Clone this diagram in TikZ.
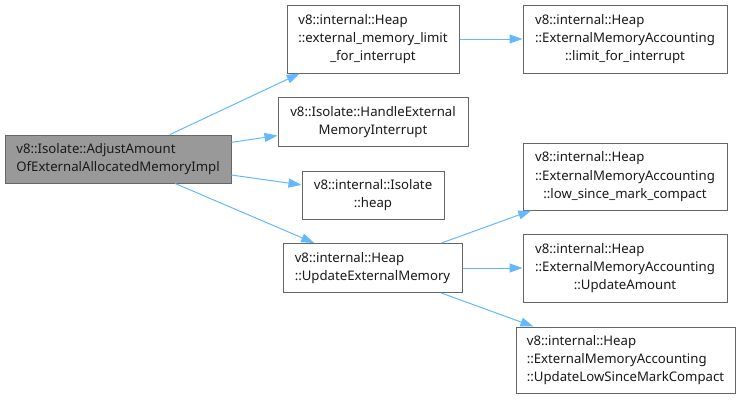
\documentclass[tikz,border=0pt]{standalone}
\usepackage{fontspec}
\setmainfont{Noto Sans}
\usetikzlibrary{arrows.meta}
\definecolor{edgeblue}{HTML}{63B8FF}
\definecolor{nodeborder}{HTML}{666666}
\definecolor{nodefill}{HTML}{999999}
\definecolor{txt}{HTML}{1A1A1A}
\newcommand{\Lln}[1]{\multicolumn{1}{@{}l@{}}{#1}}
\renewcommand{\arraystretch}{1.2}
\begin{document}
\begin{tikzpicture}[x=1pt,y=-1pt,
  box/.style={draw=nodeborder, line width=1pt, fill=white, inner sep=0pt,
    text=txt, font=\fontsize{13.2}{15.25}\selectfont},
  hl/.style={box, fill=nodefill},
  edge/.style={draw=edgeblue, line width=1pt, -{Triangle[length=13pt,width=9pt]}}]
\useasboundingbox (0,0) rectangle (740,400);
\node[hl,  minimum width=226pt, minimum height=48pt] (A) at (118,159)
  {\begin{tabular}{@{}l@{}}v8::Isolate::AdjustAmount\\OfExternalAllocatedMemoryImpl\end{tabular}};
\node[box, minimum width=172pt, minimum height=68pt] (B) at (373,39)
  {\begin{tabular}{@{}c@{}}\Lln{v8::internal::Heap}\\::external\_memory\_limit\\\_for\_interrupt\end{tabular}};
\node[box, minimum width=190pt, minimum height=49pt] (C) at (373,121.5)
  {\begin{tabular}{@{}c@{}}v8::Isolate::HandleExternal\\MemoryInterrupt\end{tabular}};
\node[box, minimum width=142pt, minimum height=48pt] (D) at (373,195)
  {\begin{tabular}{@{}c@{}}v8::internal::Isolate\\::heap\end{tabular}};
\node[box, minimum width=179pt, minimum height=49pt] (E) at (372.5,268)
  {\begin{tabular}{@{}l@{}}v8::internal::Heap\\::UpdateExternalMemory\end{tabular}};
\node[box, minimum width=204pt, minimum height=68pt] (F) at (625,39)
  {\begin{tabular}{@{}c@{}}\Lln{v8::internal::Heap}\\::ExternalMemoryAccounting\\::limit\_for\_interrupt\end{tabular}};
\node[box, minimum width=204pt, minimum height=67pt] (G) at (625,176.5)
  {\begin{tabular}{@{}c@{}}\Lln{v8::internal::Heap}\\::ExternalMemoryAccounting\\::low\_since\_mark\_compact\end{tabular}};
\node[box, minimum width=204pt, minimum height=68pt] (H) at (625,268)
  {\begin{tabular}{@{}c@{}}\Lln{v8::internal::Heap}\\::ExternalMemoryAccounting\\::UpdateAmount\end{tabular}};
\node[box, minimum width=219pt, minimum height=66pt] (I) at (625.5,360)
  {\begin{tabular}{@{}l@{}}v8::internal::Heap\\::ExternalMemoryAccounting\\::UpdateLowSinceMarkCompact\end{tabular}};
\draw[edge] (A) -- (B);
\draw[edge] (A) -- (C);
\draw[edge] (A) -- (D);
\draw[edge] (A) -- (E);
\draw[edge] (B) -- (F);
\draw[edge] (E) -- (G);
\draw[edge] (E) -- (H);
\draw[edge] (E) -- (I);
\end{tikzpicture}
\end{document}
